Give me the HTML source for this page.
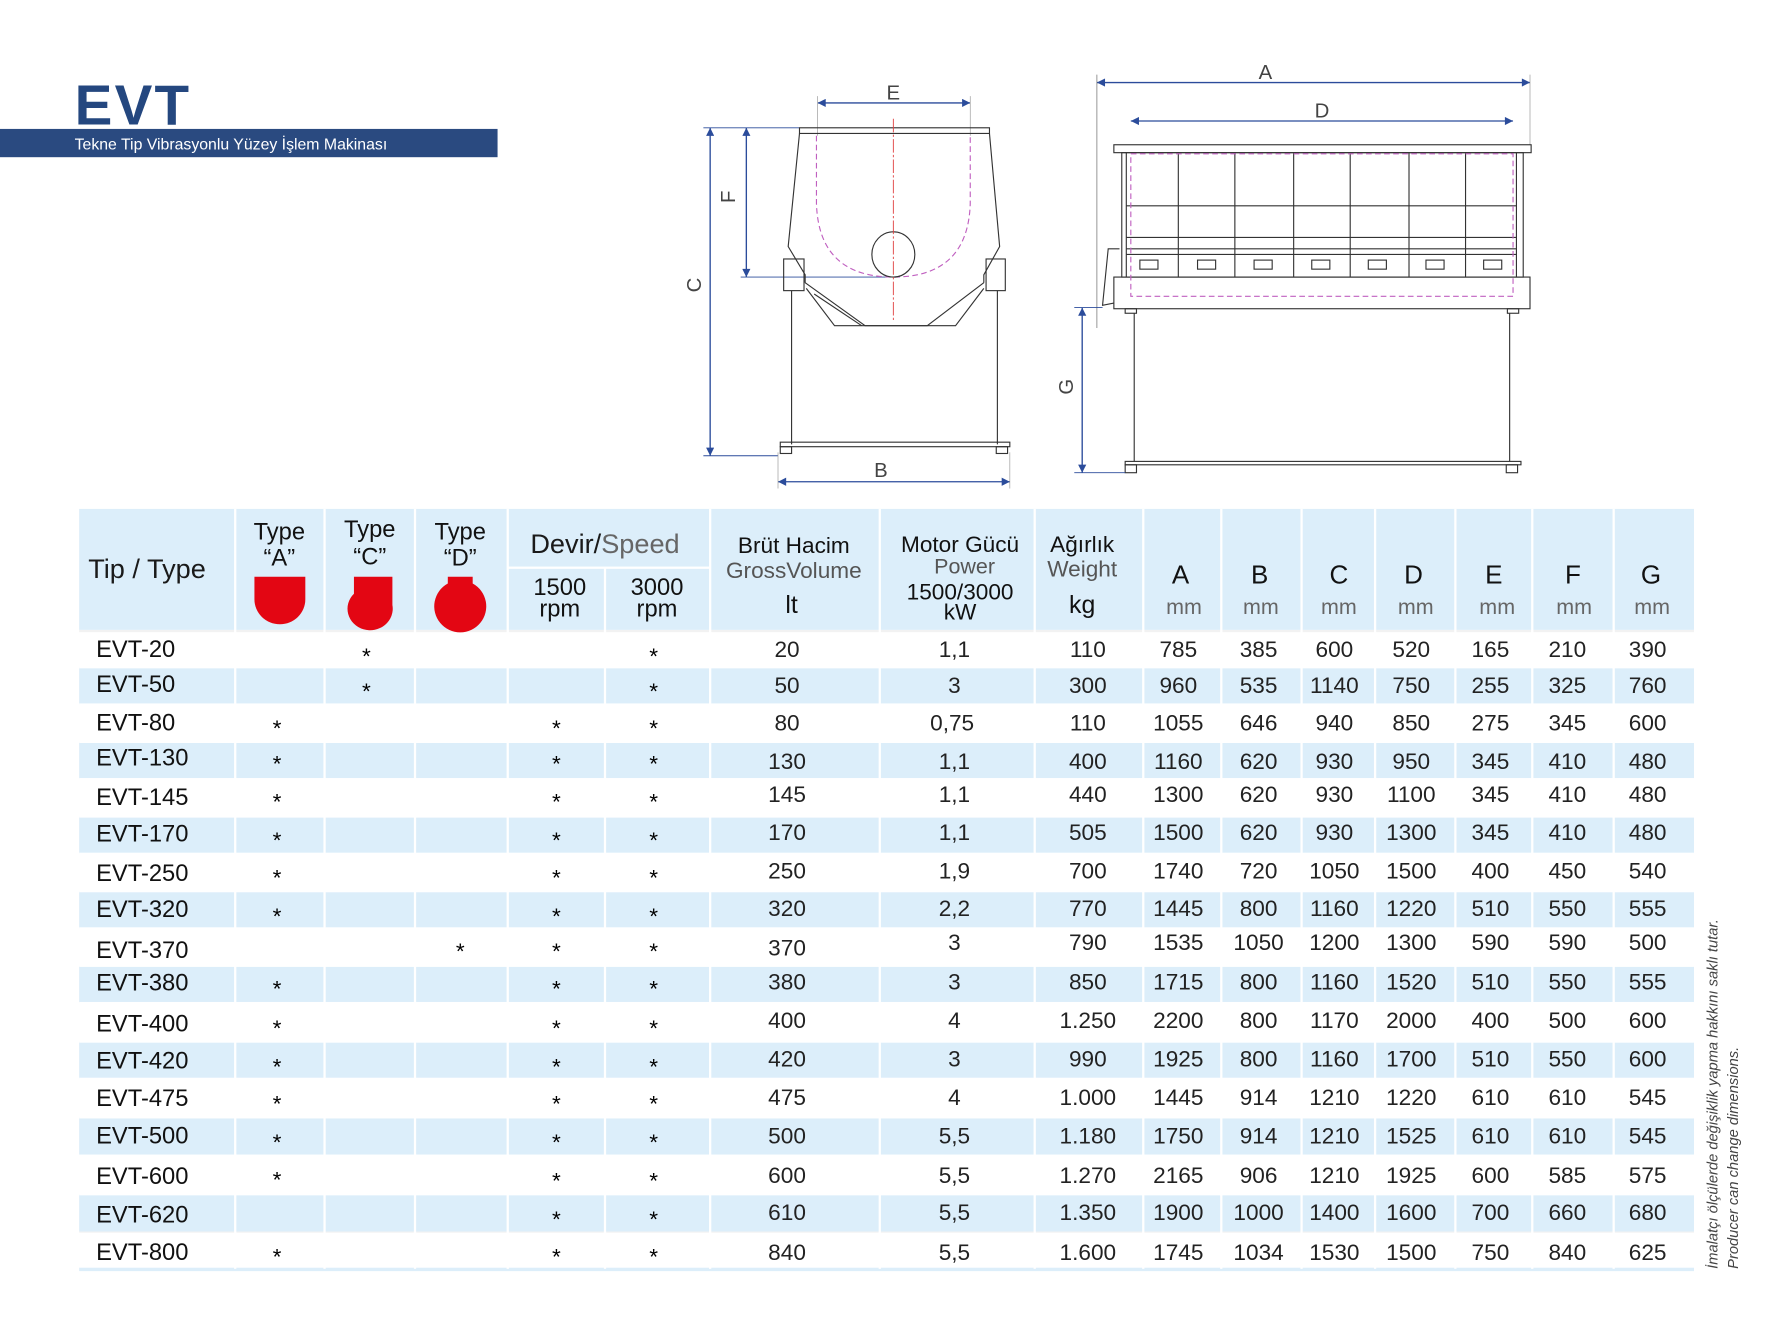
<!DOCTYPE html>
<html><head><meta charset="utf-8"><style>
html,body{margin:0;padding:0;background:#fff;width:1772px;height:1322px;overflow:hidden}
svg{display:block}
text{font-family:"Liberation Sans","DejaVu Sans",sans-serif;fill:#1a1a1a}
.n{font-size:20px;text-anchor:middle;fill:#222}
.s{font-size:20px;text-anchor:middle;fill:#000}
.nm{font-size:21px;fill:#111}
.h{text-anchor:middle;fill:#111}
.g{fill:#555}
.dl{stroke:#2b4c9b;stroke-width:1.2;fill:none}
.k{stroke:#333;stroke-width:1;fill:none}
.lb{font-size:18px;fill:#444;text-anchor:middle}
</style></head><body>
<svg width="1772" height="1322" viewBox="0 0 1567 1169" preserveAspectRatio="none" xmlns="http://www.w3.org/2000/svg">
<defs>
<marker id="ar" viewBox="0 0 10 10" refX="10" refY="5" markerWidth="8" markerHeight="6" orient="auto-start-reverse"><path d="M0,0L10,5L0,10Z" fill="#2b4c9b"/></marker>
</defs>
<!-- title -->
<text x="66" y="110" style="font-size:50px;font-weight:bold;fill:#24477f;letter-spacing:2px">EVT</text>
<rect x="0" y="114" width="440" height="25" fill="#2a4a80"/>
<text x="66" y="132" style="font-size:14px;fill:#fff">Tekne Tip Vibrasyonlu Yüzey İşlem Makinası</text>

<!-- left drawing -->
<g>
<line class="dl" x1="723" y1="91" x2="858" y2="91" marker-start="url(#ar)" marker-end="url(#ar)"/>
<line stroke="#999" stroke-width="0.6" x1="723" y1="85" x2="723" y2="120"/><line stroke="#999" stroke-width="0.6" x1="858" y1="85" x2="858" y2="120"/>
<text class="lb" x="790" y="88">E</text>
<line class="dl" x1="628" y1="113" x2="628" y2="403" marker-start="url(#ar)" marker-end="url(#ar)"/>
<line class="dl" x1="622" y1="113" x2="707" y2="113" style="stroke-width:0.8"/><line class="dl" x1="622" y1="403" x2="688" y2="403" style="stroke-width:0.8"/>
<text class="lb" x="626" y="258" transform="rotate(-90 620 258)">C</text>
<line class="dl" x1="660" y1="113" x2="660" y2="245" marker-start="url(#ar)" marker-end="url(#ar)"/>
<line class="dl" x1="655" y1="245" x2="790" y2="245" style="stroke-width:0.8"/>
<text class="lb" x="656" y="180" transform="rotate(-90 650 180)">F</text>
<line class="dl" x1="688" y1="426" x2="893" y2="426" marker-start="url(#ar)" marker-end="url(#ar)"/>
<line stroke="#999" stroke-width="0.6" x1="688" y1="400" x2="688" y2="432"/><line stroke="#999" stroke-width="0.6" x1="893" y1="400" x2="893" y2="432"/>
<text class="lb" x="779" y="422">B</text>
<rect class="k" x="707" y="113" width="168" height="5"/>
<path class="k" d="M707,118 L697,218 L712,243 L712,250 M875,118 L884,218 L870,243 L870,250"/>
<path class="k" d="M712,250 L765,288 L820,288 L870,250"/>
<path class="k" d="M713,255 L738,288 L845,288 L870,255"/>
<path class="k" d="M720,260 L762,288"/>
<rect class="k" x="693" y="229" width="18" height="28"/><rect class="k" x="872" y="229" width="17" height="28"/>
<line class="k" x1="700" y1="257" x2="700" y2="393"/><line class="k" x1="882" y1="257" x2="882" y2="393"/>
<rect class="k" x="690" y="391" width="203" height="4"/>
<rect class="k" x="690" y="395" width="10" height="6"/><rect class="k" x="881" y="395" width="10" height="6"/>
<path d="M722,120 L722,180 Q724,245 790,245 Q856,245 858,180 L858,120" fill="none" stroke="#c060c0" stroke-width="1" stroke-dasharray="5,3"/>
<ellipse class="k" cx="790" cy="225" rx="19" ry="20"/>
<line x1="790" y1="105" x2="790" y2="285" stroke="#e04040" stroke-width="0.8" stroke-dasharray="12,2,2,2"/>
</g>

<!-- right drawing -->
<g>
<line class="dl" x1="970" y1="73" x2="1353" y2="73" marker-start="url(#ar)" marker-end="url(#ar)"/>
<line stroke="#666" stroke-width="0.6" x1="970" y1="66" x2="970" y2="290"/><line stroke="#999" stroke-width="0.6" x1="1353" y1="66" x2="1353" y2="128"/>
<text class="lb" x="1119" y="70">A</text>
<line class="dl" x1="1000" y1="107" x2="1338" y2="107" marker-start="url(#ar)" marker-end="url(#ar)"/>
<text class="lb" x="1169" y="104">D</text>
<rect class="k" x="985" y="128" width="369" height="7"/>
<rect class="k" x="992" y="135" width="355" height="110"/>
<g class="k">
<line x1="996" y1="135" x2="996" y2="245"/><line x1="1042" y1="135" x2="1042" y2="245"/><line x1="1092" y1="135" x2="1092" y2="245"/><line x1="1144" y1="135" x2="1144" y2="245"/><line x1="1194" y1="135" x2="1194" y2="245"/><line x1="1246" y1="135" x2="1246" y2="245"/><line x1="1296" y1="135" x2="1296" y2="245"/><line x1="1341" y1="135" x2="1341" y2="245"/>
<line x1="996" y1="182" x2="1341" y2="182"/><line x1="996" y1="210" x2="1341" y2="210"/><line x1="996" y1="220" x2="1341" y2="220"/><line x1="996" y1="225" x2="1341" y2="225"/>
</g>
<g class="k">
<rect x="1008" y="230" width="16" height="8"/><rect x="1059" y="230" width="16" height="8"/><rect x="1109" y="230" width="16" height="8"/><rect x="1160" y="230" width="16" height="8"/><rect x="1210" y="230" width="16" height="8"/><rect x="1261" y="230" width="16" height="8"/><rect x="1312" y="230" width="16" height="8"/>
</g>
<rect class="k" x="985" y="245" width="368" height="28"/>
<rect x="1000" y="136" width="338" height="126" fill="none" stroke="#c060c0" stroke-width="1" stroke-dasharray="5,3"/>
<path class="k" d="M990,220 L980,220 L975,270 L985,268"/>
<line class="k" x1="1003" y1="277" x2="1003" y2="408"/><line class="k" x1="1335" y1="277" x2="1335" y2="408"/>
<rect class="k" x="995" y="273" width="10" height="4"/><rect class="k" x="1333" y="273" width="10" height="4"/>
<rect class="k" x="995" y="408" width="350" height="3"/>
<rect class="k" x="995" y="411" width="10" height="7"/><rect class="k" x="1332" y="411" width="10" height="7"/>
<line class="dl" x1="957" y1="272" x2="957" y2="418" marker-start="url(#ar)" marker-end="url(#ar)"/>
<line class="dl" x1="950" y1="272" x2="975" y2="272" style="stroke-width:0.8"/><line class="dl" x1="950" y1="418" x2="995" y2="418" style="stroke-width:0.8"/>
<text class="lb" x="955" y="348" transform="rotate(-90 949 348)">G</text>
</g>

<!-- table backgrounds -->
<rect x="70" y="450" width="1428" height="107" fill="#dceefa"/>
<g fill="#dceefa">
<rect x="70" y="590" width="1428" height="33"/><rect x="70" y="656" width="1428" height="33"/><rect x="70" y="722" width="1428" height="33"/><rect x="70" y="788" width="1428" height="33"/><rect x="70" y="854" width="1428" height="33"/><rect x="70" y="921" width="1428" height="33"/><rect x="70" y="988" width="1428" height="33"/><rect x="70" y="1056" width="1428" height="33"/>
</g>
<rect x="70" y="1121" width="1428" height="3" fill="#dceefa"/>
<g fill="#f2f2f2">
<rect x="70" y="557" width="1428" height="2"/><rect x="70" y="1089" width="1428" height="1"/>
</g>
<g fill="#fff">
<rect x="207" y="450" width="2" height="672"/><rect x="286" y="450" width="2" height="672"/><rect x="366" y="450" width="2" height="672"/><rect x="448" y="450" width="2" height="672"/><rect x="534" y="502" width="2" height="620"/><rect x="627" y="450" width="2" height="672"/><rect x="777" y="450" width="2" height="672"/><rect x="914" y="450" width="2" height="672"/><rect x="1010" y="450" width="2" height="672"/><rect x="1079" y="450" width="2" height="672"/><rect x="1150" y="450" width="2" height="672"/><rect x="1215" y="450" width="2" height="672"/><rect x="1286" y="450" width="2" height="672"/><rect x="1354" y="450" width="2" height="672"/><rect x="1426" y="450" width="2" height="672"/>
<rect x="449" y="501" width="179" height="2"/>
<rect x="70" y="589" width="1428" height="2"/><rect x="70" y="622" width="1428" height="2"/><rect x="70" y="655" width="1428" height="2"/><rect x="70" y="688" width="1428" height="2"/><rect x="70" y="721" width="1428" height="2"/><rect x="70" y="754" width="1428" height="2"/><rect x="70" y="787" width="1428" height="2"/><rect x="70" y="820" width="1428" height="2"/><rect x="70" y="853" width="1428" height="2"/><rect x="70" y="886" width="1428" height="2"/><rect x="70" y="920" width="1428" height="2"/><rect x="70" y="953" width="1428" height="2"/><rect x="70" y="987" width="1428" height="2"/><rect x="70" y="1021" width="1428" height="2"/><rect x="70" y="1055" width="1428" height="2"/>
</g>

<!-- header -->
<text x="78" y="511" style="font-size:24px">Tip / Type</text>
<text class="h" x="247" y="477" style="font-size:21px">Type</text><text class="h" x="247" y="500" style="font-size:21px">“A”</text>
<text class="h" x="327" y="475" style="font-size:21px">Type</text><text class="h" x="327" y="499" style="font-size:21px">“C”</text>
<text class="h" x="407" y="477" style="font-size:21px">Type</text><text class="h" x="407" y="500" style="font-size:21px">“D”</text>
<path d="M225,510 H270 V530 A22.5,22 0 0 1 225,530 Z" fill="#e30613"/>
<path d="M313,510 H347 V535 A20,19 0 1 1 313,525 Z" fill="#e30613"/>
<path d="M396,510 H418 V516 A23,23 0 1 1 396,516 Z" fill="#e30613"/>
<text x="469" y="489" style="font-size:24px">Devir/<tspan class="g" style="fill:#666">Speed</tspan></text>
<text class="h" x="495" y="526" style="font-size:21px">1500</text><text class="h" x="495" y="545" style="font-size:21px">rpm</text>
<text class="h" x="581" y="526" style="font-size:21px">3000</text><text class="h" x="581" y="545" style="font-size:21px">rpm</text>
<text class="h" x="702" y="489" style="font-size:20px">Brüt Hacim</text>
<text class="h g" x="702" y="511" style="font-size:20px;fill:#555">GrossVolume</text>
<text class="h" x="700" y="542" style="font-size:22px">lt</text>
<text class="h" x="849" y="488" style="font-size:20px">Motor Gücü</text>
<text class="h" x="853" y="507" style="font-size:19px;fill:#555">Power</text>
<text class="h" x="849" y="530" style="font-size:20px">1500/3000</text>
<text class="h" x="849" y="548" style="font-size:20px">kW</text>
<text class="h" x="957" y="488" style="font-size:20px">Ağırlık</text>
<text class="h" x="957" y="510" style="font-size:20px;fill:#555">Weight</text>
<text class="h" x="957" y="542" style="font-size:22px">kg</text>
<g style="font-size:23px">
<text class="h" x="1044" y="516">A</text><text class="h" x="1114" y="516">B</text><text class="h" x="1184" y="516">C</text><text class="h" x="1250" y="516">D</text><text class="h" x="1321" y="516">E</text><text class="h" x="1391" y="516">F</text><text class="h" x="1460" y="516">G</text>
</g>
<g style="font-size:19px;fill:#666">
<text class="h" x="1047" y="543" style="fill:#666">mm</text><text class="h" x="1115" y="543" style="fill:#666">mm</text><text class="h" x="1184" y="543" style="fill:#666">mm</text><text class="h" x="1252" y="543" style="fill:#666">mm</text><text class="h" x="1324" y="543" style="fill:#666">mm</text><text class="h" x="1392" y="543" style="fill:#666">mm</text><text class="h" x="1461" y="543" style="fill:#666">mm</text>
</g>

<!-- rows -->
<g>
<text class="nm" x="85" y="581">EVT-20</text><text class="s" x="324" y="587">*</text><text class="s" x="578" y="587">*</text>
<text class="n" x="696" y="581">20</text><text class="n" x="844" y="581">1,1</text><text class="n" x="962" y="581">110</text><text class="n" x="1042" y="581">785</text><text class="n" x="1113" y="581">385</text><text class="n" x="1180" y="581">600</text><text class="n" x="1248" y="581">520</text><text class="n" x="1318" y="581">165</text><text class="n" x="1386" y="581">210</text><text class="n" x="1457" y="581">390</text>

<text class="nm" x="85" y="612">EVT-50</text><text class="s" x="324" y="618">*</text><text class="s" x="578" y="618">*</text>
<text class="n" x="696" y="613">50</text><text class="n" x="844" y="613">3</text><text class="n" x="962" y="613">300</text><text class="n" x="1042" y="613">960</text><text class="n" x="1113" y="613">535</text><text class="n" x="1180" y="613">1140</text><text class="n" x="1248" y="613">750</text><text class="n" x="1318" y="613">255</text><text class="n" x="1386" y="613">325</text><text class="n" x="1457" y="613">760</text>

<text class="nm" x="85" y="646">EVT-80</text><text class="s" x="245" y="651">*</text><text class="s" x="492" y="651">*</text><text class="s" x="578" y="651">*</text>
<text class="n" x="696" y="646">80</text><text class="n" x="842" y="646">0,75</text><text class="n" x="962" y="646">110</text><text class="n" x="1042" y="646">1055</text><text class="n" x="1113" y="646">646</text><text class="n" x="1180" y="646">940</text><text class="n" x="1248" y="646">850</text><text class="n" x="1318" y="646">275</text><text class="n" x="1386" y="646">345</text><text class="n" x="1457" y="646">600</text>

<text class="nm" x="85" y="677">EVT-130</text><text class="s" x="245" y="682">*</text><text class="s" x="492" y="682">*</text><text class="s" x="578" y="682">*</text>
<text class="n" x="696" y="680">130</text><text class="n" x="844" y="680">1,1</text><text class="n" x="962" y="680">400</text><text class="n" x="1042" y="680">1160</text><text class="n" x="1113" y="680">620</text><text class="n" x="1180" y="680">930</text><text class="n" x="1248" y="680">950</text><text class="n" x="1318" y="680">345</text><text class="n" x="1386" y="680">410</text><text class="n" x="1457" y="680">480</text>

<text class="nm" x="85" y="712">EVT-145</text><text class="s" x="245" y="716">*</text><text class="s" x="492" y="716">*</text><text class="s" x="578" y="716">*</text>
<text class="n" x="696" y="709">145</text><text class="n" x="844" y="709">1,1</text><text class="n" x="962" y="709">440</text><text class="n" x="1042" y="709">1300</text><text class="n" x="1113" y="709">620</text><text class="n" x="1180" y="709">930</text><text class="n" x="1248" y="709">1100</text><text class="n" x="1318" y="709">345</text><text class="n" x="1386" y="709">410</text><text class="n" x="1457" y="709">480</text>

<text class="nm" x="85" y="744">EVT-170</text><text class="s" x="245" y="750">*</text><text class="s" x="492" y="750">*</text><text class="s" x="578" y="750">*</text>
<text class="n" x="696" y="743">170</text><text class="n" x="844" y="743">1,1</text><text class="n" x="962" y="743">505</text><text class="n" x="1042" y="743">1500</text><text class="n" x="1113" y="743">620</text><text class="n" x="1180" y="743">930</text><text class="n" x="1248" y="743">1300</text><text class="n" x="1318" y="743">345</text><text class="n" x="1386" y="743">410</text><text class="n" x="1457" y="743">480</text>

<text class="nm" x="85" y="779">EVT-250</text><text class="s" x="245" y="783">*</text><text class="s" x="492" y="783">*</text><text class="s" x="578" y="783">*</text>
<text class="n" x="696" y="777">250</text><text class="n" x="844" y="777">1,9</text><text class="n" x="962" y="777">700</text><text class="n" x="1042" y="777">1740</text><text class="n" x="1113" y="777">720</text><text class="n" x="1180" y="777">1050</text><text class="n" x="1248" y="777">1500</text><text class="n" x="1318" y="777">400</text><text class="n" x="1386" y="777">450</text><text class="n" x="1457" y="777">540</text>

<text class="nm" x="85" y="811">EVT-320</text><text class="s" x="245" y="817">*</text><text class="s" x="492" y="817">*</text><text class="s" x="578" y="817">*</text>
<text class="n" x="696" y="810">320</text><text class="n" x="844" y="810">2,2</text><text class="n" x="962" y="810">770</text><text class="n" x="1042" y="810">1445</text><text class="n" x="1113" y="810">800</text><text class="n" x="1180" y="810">1160</text><text class="n" x="1248" y="810">1220</text><text class="n" x="1318" y="810">510</text><text class="n" x="1386" y="810">550</text><text class="n" x="1457" y="810">555</text>

<text class="nm" x="85" y="847">EVT-370</text><text class="s" x="407" y="848">*</text><text class="s" x="492" y="848">*</text><text class="s" x="578" y="848">*</text>
<text class="n" x="696" y="845">370</text><text class="n" x="844" y="840">3</text><text class="n" x="962" y="840">790</text><text class="n" x="1042" y="840">1535</text><text class="n" x="1113" y="840">1050</text><text class="n" x="1180" y="840">1200</text><text class="n" x="1248" y="840">1300</text><text class="n" x="1318" y="840">590</text><text class="n" x="1386" y="840">590</text><text class="n" x="1457" y="840">500</text>

<text class="nm" x="85" y="876">EVT-380</text><text class="s" x="245" y="881">*</text><text class="s" x="492" y="881">*</text><text class="s" x="578" y="881">*</text>
<text class="n" x="696" y="875">380</text><text class="n" x="844" y="875">3</text><text class="n" x="962" y="875">850</text><text class="n" x="1042" y="875">1715</text><text class="n" x="1113" y="875">800</text><text class="n" x="1180" y="875">1160</text><text class="n" x="1248" y="875">1520</text><text class="n" x="1318" y="875">510</text><text class="n" x="1386" y="875">550</text><text class="n" x="1457" y="875">555</text>

<text class="nm" x="85" y="912">EVT-400</text><text class="s" x="245" y="916">*</text><text class="s" x="492" y="916">*</text><text class="s" x="578" y="916">*</text>
<text class="n" x="696" y="909">400</text><text class="n" x="844" y="909">4</text><text class="n" x="962" y="909">1.250</text><text class="n" x="1042" y="909">2200</text><text class="n" x="1113" y="909">800</text><text class="n" x="1180" y="909">1170</text><text class="n" x="1248" y="909">2000</text><text class="n" x="1318" y="909">400</text><text class="n" x="1386" y="909">500</text><text class="n" x="1457" y="909">600</text>

<text class="nm" x="85" y="945">EVT-420</text><text class="s" x="245" y="950">*</text><text class="s" x="492" y="950">*</text><text class="s" x="578" y="950">*</text>
<text class="n" x="696" y="943">420</text><text class="n" x="844" y="943">3</text><text class="n" x="962" y="943">990</text><text class="n" x="1042" y="943">1925</text><text class="n" x="1113" y="943">800</text><text class="n" x="1180" y="943">1160</text><text class="n" x="1248" y="943">1700</text><text class="n" x="1318" y="943">510</text><text class="n" x="1386" y="943">550</text><text class="n" x="1457" y="943">600</text>

<text class="nm" x="85" y="978">EVT-475</text><text class="s" x="245" y="983">*</text><text class="s" x="492" y="983">*</text><text class="s" x="578" y="983">*</text>
<text class="n" x="696" y="977">475</text><text class="n" x="844" y="977">4</text><text class="n" x="962" y="977">1.000</text><text class="n" x="1042" y="977">1445</text><text class="n" x="1113" y="977">914</text><text class="n" x="1180" y="977">1210</text><text class="n" x="1248" y="977">1220</text><text class="n" x="1318" y="977">610</text><text class="n" x="1386" y="977">610</text><text class="n" x="1457" y="977">545</text>

<text class="nm" x="85" y="1011">EVT-500</text><text class="s" x="245" y="1017">*</text><text class="s" x="492" y="1017">*</text><text class="s" x="578" y="1017">*</text>
<text class="n" x="696" y="1011">500</text><text class="n" x="844" y="1011">5,5</text><text class="n" x="962" y="1011">1.180</text><text class="n" x="1042" y="1011">1750</text><text class="n" x="1113" y="1011">914</text><text class="n" x="1180" y="1011">1210</text><text class="n" x="1248" y="1011">1525</text><text class="n" x="1318" y="1011">610</text><text class="n" x="1386" y="1011">610</text><text class="n" x="1457" y="1011">545</text>

<text class="nm" x="85" y="1047">EVT-600</text><text class="s" x="245" y="1050">*</text><text class="s" x="492" y="1051">*</text><text class="s" x="578" y="1051">*</text>
<text class="n" x="696" y="1046">600</text><text class="n" x="844" y="1046">5,5</text><text class="n" x="962" y="1046">1.270</text><text class="n" x="1042" y="1046">2165</text><text class="n" x="1113" y="1046">906</text><text class="n" x="1180" y="1046">1210</text><text class="n" x="1248" y="1046">1925</text><text class="n" x="1318" y="1046">600</text><text class="n" x="1386" y="1046">585</text><text class="n" x="1457" y="1046">575</text>

<text class="nm" x="85" y="1081">EVT-620</text><text class="s" x="492" y="1085">*</text><text class="s" x="578" y="1085">*</text>
<text class="n" x="696" y="1079">610</text><text class="n" x="844" y="1079">5,5</text><text class="n" x="962" y="1079">1.350</text><text class="n" x="1042" y="1079">1900</text><text class="n" x="1113" y="1079">1000</text><text class="n" x="1180" y="1079">1400</text><text class="n" x="1248" y="1079">1600</text><text class="n" x="1318" y="1079">700</text><text class="n" x="1386" y="1079">660</text><text class="n" x="1457" y="1079">680</text>

<text class="nm" x="85" y="1114">EVT-800</text><text class="s" x="245" y="1118">*</text><text class="s" x="492" y="1118">*</text><text class="s" x="578" y="1118">*</text>
<text class="n" x="696" y="1114">840</text><text class="n" x="844" y="1114">5,5</text><text class="n" x="962" y="1114">1.600</text><text class="n" x="1042" y="1114">1745</text><text class="n" x="1113" y="1114">1034</text><text class="n" x="1180" y="1114">1530</text><text class="n" x="1248" y="1114">1500</text><text class="n" x="1318" y="1114">750</text><text class="n" x="1386" y="1114">840</text><text class="n" x="1457" y="1114">625</text>
</g>

<!-- vertical note -->
<text transform="translate(1519,1122) rotate(-90)" style="font-size:13px;font-style:italic;fill:#444">İmalatçı ölçülerde değişiklik yapma hakkını saklı tutar.</text>
<text transform="translate(1537,1122) rotate(-90)" style="font-size:13px;font-style:italic;fill:#444">Producer can change dimensions.</text>
</svg>
</body></html>
